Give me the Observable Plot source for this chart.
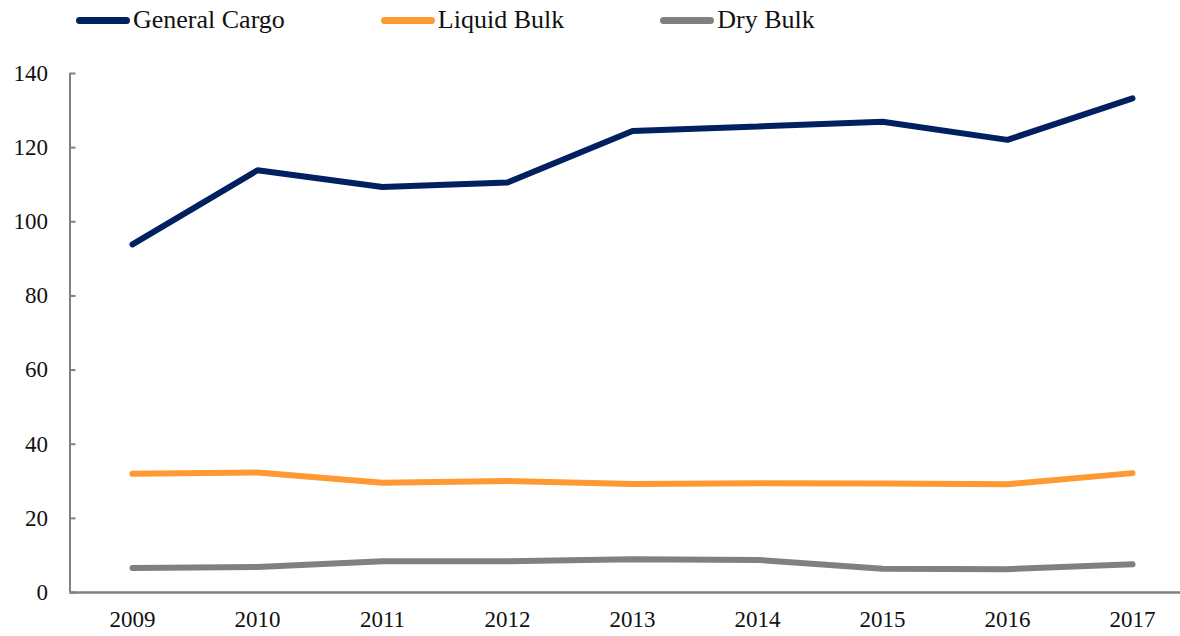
<!DOCTYPE html>
<html>
<head>
<meta charset="utf-8">
<script src="https://cdn.jsdelivr.net/npm/d3@7"></script>
<script src="https://cdn.jsdelivr.net/npm/@observablehq/plot@0.6"></script>
<style>
  html, body { margin: 0; padding: 0; background: #fff; }
  body { width: 1180px; height: 636px; overflow: hidden; font-family: "Liberation Serif", "DejaVu Serif", serif; }
  #legend { height: 40px; display: flex; align-items: center; padding-left: 76px; box-sizing: border-box; }
  .item { display: flex; align-items: center; margin-right: 96px; font-size: 26px; color: #111; }
  .sw { width: 54px; height: 7px; border-radius: 4px; margin-right: 3px; }
  svg { display: block; }
</style>
</head>
<body>
<div id="legend"></div>
<div id="chart"></div>
<script>
const years = [2009, 2010, 2011, 2012, 2013, 2014, 2015, 2016, 2017];
const generalCargo = [93.9, 113.9, 109.4, 110.6, 124.5, 125.7, 127.0, 122.1, 133.3];
const liquidBulk   = [32.0, 32.4, 29.6, 30.1, 29.3, 29.5, 29.4, 29.2, 32.2];
const dryBulk      = [6.6, 6.9, 8.4, 8.4, 9.0, 8.8, 6.4, 6.3, 7.6];
const seriesNames = ["General Cargo", "Liquid Bulk", "Dry Bulk"];
const seriesColors = ["#002060", "#FF9933", "#808080"];
const yTicks = [0, 20, 40, 60, 80, 100, 120, 140];

const seriesValues = [generalCargo, liquidBulk, dryBulk];
const data = [];
seriesNames.forEach((name, i) => {
  years.forEach((yr, j) => data.push({series: name, year: yr, value: seriesValues[i][j]}));
});

// legend
const legend = document.getElementById("legend");
seriesNames.forEach((name, i) => {
  const it = document.createElement("div");
  it.className = "item";
  const sw = document.createElement("div");
  sw.className = "sw";
  sw.style.background = seriesColors[i];
  const tx = document.createElement("span");
  tx.textContent = name;
  it.appendChild(sw); it.appendChild(tx);
  legend.appendChild(it);
});

const width = 1180, marginLeft = 69.5;
const step = 125;
const xDomain = [years[0] - 0.5, years[0] - 0.5 + (width - marginLeft) / step];
const tickLen = 6 / step;

const chart = Plot.plot({
  width: width,
  height: 596,
  marginLeft: marginLeft,
  marginRight: 0,
  marginTop: 33,
  marginBottom: 44,
  style: {fontFamily: "Liberation Serif, serif", fontSize: "23px", color: "#111", background: "#fff"},
  x: {domain: xDomain, axis: null},
  y: {domain: [0, 140], axis: null},
  color: {domain: seriesNames, range: seriesColors},
  marks: [
    Plot.axisX({ticks: years, tickFormat: d => String(d), tickSize: 0, tickPadding: 18, fontSize: 23, label: null}),
    Plot.axisY({ticks: yTicks, tickSize: 0, tickPadding: 22, fontSize: 23, label: null}),
    Plot.ruleY(yTicks, {x1: xDomain[0], x2: xDomain[0] + tickLen, stroke: "#808080", strokeWidth: 2}),
    Plot.ruleX([xDomain[0]], {y1: 0, y2: 140, stroke: "#808080", strokeWidth: 2}),
    Plot.ruleY([0], {stroke: "#808080", strokeWidth: 2.5}),
    Plot.line(data, {x: "year", y: "value", z: "series", stroke: "series", strokeWidth: 6, strokeLinecap: "round", strokeLinejoin: "miter"})
  ]
});
document.getElementById("chart").appendChild(chart);
</script>
</body>
</html>
